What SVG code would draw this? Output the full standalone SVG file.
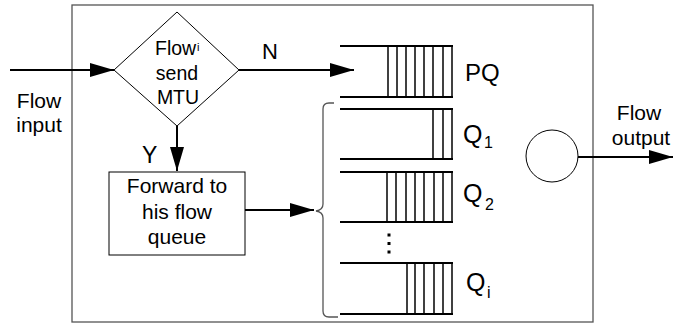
<svg xmlns="http://www.w3.org/2000/svg" width="673" height="324" viewBox="0 0 673 324">
<style>
text{font-family:"Liberation Sans",Arial,sans-serif;fill:#000}
.t{font-size:21px}
.d{font-size:19.5px}
.c{text-anchor:middle}
.q{font-size:25px}
.sub{font-size:16px}
.line{stroke:#000;stroke-width:2;fill:none}
.qh{stroke:#000;stroke-width:2}
.qv{stroke:#000;stroke-width:1.5}
.thin{stroke:#000;stroke-width:1;fill:#fff}
.gray{stroke:#555;stroke-width:1.3;fill:none}
</style>
<defs>
<marker id="ah" markerUnits="userSpaceOnUse" markerWidth="24" markerHeight="14" refX="24" refY="7" orient="auto">
<path d="M0,0 L24,7 L0,14 z" fill="#000"/>
</marker>
</defs>
<rect id="frame" x="72" y="5" width="521" height="317" class="gray" fill="none"/>
<g id="connectors">
<line x1="10" y1="70" x2="114" y2="70" class="line" marker-end="url(#ah)"/>
<line x1="239" y1="70" x2="354" y2="70" class="line" marker-end="url(#ah)"/>
<line x1="177" y1="126" x2="177" y2="171" class="line" marker-end="url(#ah)"/>
<line x1="245" y1="210" x2="314" y2="210" class="line" marker-end="url(#ah)"/>
<line x1="578" y1="157" x2="673" y2="157" class="line" marker-end="url(#ah)"/>
<path d="M334,103 L329,103 Q323,103 323,109 L323,204 Q323,210 316,211 Q323,212 323,218 L323,311 Q323,317 329,317 L338,317" class="gray"/>
</g>
<g id="decision">
<path d="M114,70 L177,12 L239,70 L177,126 Z" class="thin"/>
<text class="d" x="155" y="55">Flow</text>
<text x="197" y="51" style="font-size:11px">i</text>
<text class="d c" x="177" y="80">send</text>
<text class="d c" x="178" y="104">MTU</text>
</g>
<g id="labels">
<text class="t c" x="39" y="108">Flow</text>
<text class="t c" x="39" y="132">input</text>
<text x="262" y="59" style="font-size:22px">N</text>
<text x="142" y="163" style="font-size:23px">Y</text>
<text class="t c" x="639" y="120">Flow</text>
<text class="t c" x="641" y="145">output</text>
</g>
<g id="forward">
<rect x="109" y="172" width="136" height="83" class="thin"/>
<text class="t c" x="177" y="193">Forward to</text>
<text class="t c" x="177" y="219">his flow</text>
<text class="t c" x="177" y="244">queue</text>
</g>
<g id="pq">
<line x1="340" y1="46" x2="453" y2="46" class="qh"/>
<line x1="340" y1="97" x2="453" y2="97" class="qh"/>
<g class="qv">
<line x1="388" y1="46" x2="388" y2="97"/><line x1="397" y1="46" x2="397" y2="97"/><line x1="406" y1="46" x2="406" y2="97"/><line x1="415" y1="46" x2="415" y2="97"/><line x1="424" y1="46" x2="424" y2="97"/><line x1="433" y1="46" x2="433" y2="97"/><line x1="443" y1="46" x2="443" y2="97"/><line x1="452" y1="46" x2="452" y2="97"/>
</g>
<text x="465" y="81" style="font-size:24px">PQ</text>
</g>
<g id="q1">
<line x1="340" y1="109" x2="453" y2="109" class="qh"/>
<line x1="340" y1="159" x2="453" y2="159" class="qh"/>
<g class="qv">
<line x1="433" y1="109" x2="433" y2="159"/><line x1="443" y1="109" x2="443" y2="159"/><line x1="452" y1="109" x2="452" y2="159"/>
</g>
<text class="q" x="463" y="143">Q</text><text class="sub" x="484" y="148">1</text>
</g>
<g id="q2">
<line x1="340" y1="172" x2="453" y2="172" class="qh"/>
<line x1="340" y1="222" x2="453" y2="222" class="qh"/>
<g class="qv">
<line x1="387" y1="172" x2="387" y2="222"/><line x1="396" y1="172" x2="396" y2="222"/><line x1="406" y1="172" x2="406" y2="222"/><line x1="415" y1="172" x2="415" y2="222"/><line x1="424" y1="172" x2="424" y2="222"/><line x1="434" y1="172" x2="434" y2="222"/><line x1="443" y1="172" x2="443" y2="222"/><line x1="452" y1="172" x2="452" y2="222"/>
</g>
<text class="q" x="463" y="202">Q</text><text class="sub" x="485" y="210">2</text>
</g>
<g id="dots" fill="#000">
<rect x="387.5" y="233.5" width="3" height="3"/>
<rect x="387.5" y="242" width="3" height="3"/>
<rect x="387.5" y="250.5" width="3" height="3"/>
</g>
<g id="qi">
<line x1="340" y1="263" x2="453" y2="263" class="qh"/>
<line x1="340" y1="314" x2="453" y2="314" class="qh"/>
<g class="qv">
<line x1="407" y1="263" x2="407" y2="314"/><line x1="415" y1="263" x2="415" y2="314"/><line x1="424" y1="263" x2="424" y2="314"/><line x1="434" y1="263" x2="434" y2="314"/><line x1="443" y1="263" x2="443" y2="314"/><line x1="452" y1="263" x2="452" y2="314"/>
</g>
<text class="q" x="466" y="291">Q</text><text class="sub" x="487" y="298">i</text>
</g>
<g id="scheduler">
<circle cx="552" cy="156" r="26" class="thin"/>
</g>
</svg>
